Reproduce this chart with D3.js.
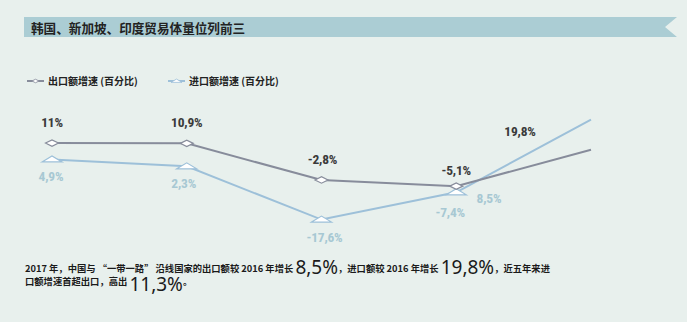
<!DOCTYPE html>
<html>
<head>
<meta charset="utf-8">
<script src="https://cdn.jsdelivr.net/npm/d3@7"></script>
<style>
  html, body { margin: 0; padding: 0; background: #e8f0ed; }
  svg { display: block; }
</style>
</head>
<body>
<script>
// ---- data ----
const title = "韩国、新加坡、印度贸易体量位列前三";
const years = ["2013", "2014", "2015", "2016", "2017"];
const exportGrowth = [11, 10.9, -2.8, -5.1, 8.5];
const importGrowth = [4.9, 2.3, -17.6, -7.4, 19.8];
const seriesNames = ["出口额增速 (百分比)", "进口额增速 (百分比)"];
const exportLabels = ["11%", "10,9%", "-2,8%", "-5,1%", "19,8%"];
const importLabels = ["4,9%", "2,3%", "-17,6%", "-7,4%", "8,5%"];
const noteLine1 = [
  ["2017 年，中国与 “一带一路” 沿线国家的出口额较 2016 年增长 ", false],
  ["8,5%", true],
  ["，进口额较 2016 年增长 ", false],
  ["19,8%", true],
  ["，近五年来进", false]
];
const noteLine2 = [
  ["口额增速首超出口，高出 ", false],
  ["11,3%", true],
  ["。", false]
];

// ---- layout ----
const W = 687, H = 322;
const colExport = "#878c9b", colImport = "#9dc0d9";
const colExportText = "#3a3a3a", colImportText = "#a7c8d3";
const cjk = "'Noto Sans CJK SC', 'Noto Sans', sans-serif";
const narrow = "'Liberation Sans Narrow', 'Roboto Condensed', 'DejaVu Sans Condensed', 'Liberation Sans', sans-serif";

const svg = d3.select("body").append("svg").attr("width", W).attr("height", H);
svg.append("rect").attr("width", W).attr("height", H).attr("fill", "#e8f0ed");

// title banner with notched right end
svg.append("path")
  .attr("d", "M24,17 L677,17 L665,27 L677,37 L24,37 Z")
  .attr("fill", "#abcdd4");
svg.append("text").attr("x", 31).attr("y", 32.5)
  .attr("font-family", cjk).attr("font-size", 12.6).attr("font-weight", 700)
  .attr("fill", "#222").text(title);

// scales
const x = d3.scalePoint().domain(years).range([52, 591]);
const y = d3.scaleLinear().domain([-20, 20]).range([226, 119]);

const diamond = "M-6.5,0 L0,-3.2 L6.5,0 L0,3.2 Z";
const triangle = "M-10,2.5 L0,-3.5 L10,2.5 Z";

// legend
const legend = [
  { name: seriesNames[0], color: colExport, marker: diamond, x0: 27 },
  { name: seriesNames[1], color: colImport, marker: triangle, x0: 168 }
];
legend.forEach(l => {
  const g = svg.append("g").attr("transform", `translate(${l.x0},81)`);
  g.append("line").attr("x1", 0).attr("x2", 17).attr("stroke", l.color).attr("stroke-width", 2);
  g.append("path").attr("d", l.marker).attr("transform", "translate(8.5,0) scale(0.55)")
    .attr("fill", "#fff").attr("stroke", l.color).attr("stroke-width", 1.5);
  g.append("text").attr("x", 21).attr("y", 3.8)
    .attr("font-family", cjk).attr("font-size", 10).attr("font-weight", 700)
    .attr("fill", "#222").text(l.name);
});

// lines
const line = d3.line().x((d, i) => x(years[i])).y(d => y(d));
svg.append("path").datum(importGrowth).attr("d", line)
  .attr("fill", "none").attr("stroke", colImport).attr("stroke-width", 2);
svg.append("path").datum(exportGrowth).attr("d", line)
  .attr("fill", "none").attr("stroke", colExport).attr("stroke-width", 2);

// markers (not on the last point)
svg.selectAll(".tri").data(importGrowth.slice(0, 4)).enter().append("path")
  .attr("d", triangle)
  .attr("transform", (d, i) => `translate(${x(years[i])},${y(d)})`)
  .attr("fill", "#fff").attr("stroke", colImport).attr("stroke-width", 1.2);
svg.selectAll(".dia").data(exportGrowth.slice(0, 4)).enter().append("path")
  .attr("d", diamond)
  .attr("transform", (d, i) => `translate(${x(years[i])},${y(d)})`)
  .attr("fill", "#fff").attr("stroke", colExport).attr("stroke-width", 1.2);

// value labels (offsets relative to each point)
const expOff = [[0, -16], [0, -16], [1, -16], [0, -11.5], [-71, 16]];
const impOff = [[-1, 21.5], [-3, 22], [3, 22.5], [-6, 25], [-102, 83]];
const labelFont = (sel) => sel.attr("font-family", narrow).attr("font-size", 13.5)
  .attr("font-weight", 700).attr("text-anchor", "middle").attr("letter-spacing", -0.2);
svg.selectAll(".el").data(exportGrowth).enter().append("text")
  .call(labelFont)
  .attr("x", (d, i) => x(years[i]) + expOff[i][0])
  .attr("y", (d, i) => y(i === 4 ? importGrowth[i] : d) + expOff[i][1])
  .attr("fill", colExportText)
  .text((d, i) => exportLabels[i]);
svg.selectAll(".il").data(importGrowth).enter().append("text")
  .call(labelFont)
  .attr("x", (d, i) => x(years[i]) + impOff[i][0])
  .attr("y", (d, i) => y(d) + impOff[i][1])
  .attr("fill", colImportText)
  .text((d, i) => importLabels[i]);

// footnote
function note(parts, yy, bigDy) {
  const t = svg.append("text").attr("x", 25).attr("y", yy)
    .attr("font-family", cjk).attr("font-size", 9.3).attr("font-weight", 700).attr("fill", "#1a1a1a");
  parts.forEach(([s, big]) => {
    const ts = t.append("tspan").text(s);
    if (big) ts.attr("font-family", "'Noto Sans', 'Open Sans', sans-serif")
      .attr("font-size", 19).attr("font-weight", 400)
      .attr("y", yy + bigDy);
    else ts.attr("y", yy);
  });
}
note(noteLine1, 271.5, 2.8);
note(noteLine2, 284.5, 6.5);
</script>
</body>
</html>
